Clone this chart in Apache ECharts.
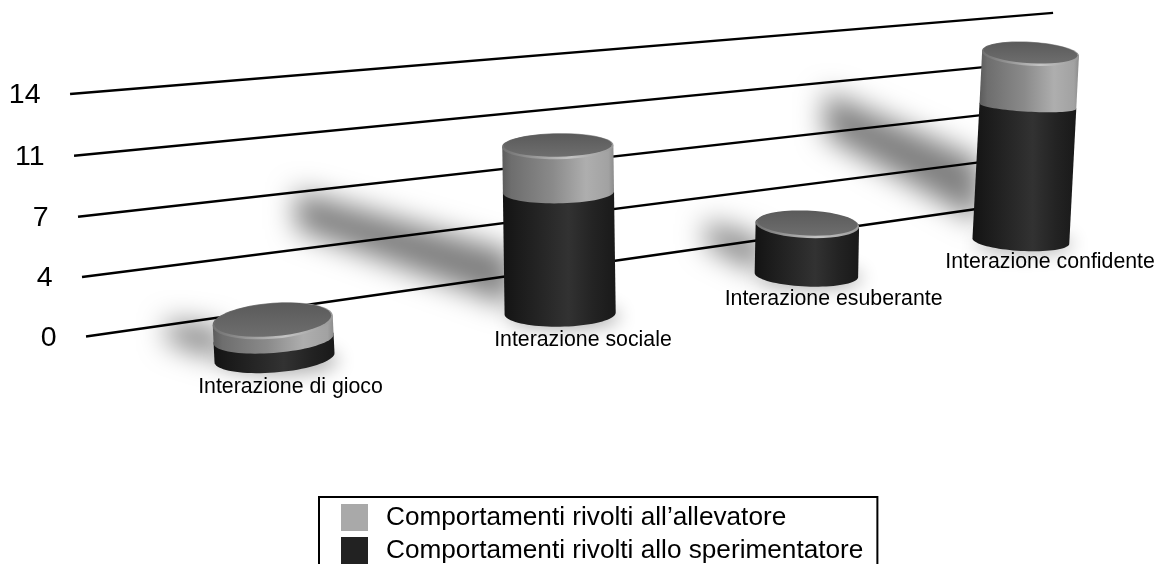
<!DOCTYPE html>
<html><head><meta charset="utf-8">
<style>html,body{margin:0;padding:0;background:#fff;overflow:hidden}#c{width:1159px;height:564px}</style>
<script src="https://cdn.jsdelivr.net/npm/echarts@6/dist/echarts.min.js"></script>
</head><body><div id="c"></div>
<script>
const categories = ['Interazione di gioco','Interazione sociale','Interazione esuberante','Interazione confidente'];
const sperimentatore = [1.15, 8.0, 3.67, 10.15];
const allevatore = [1.15, 3.0, 0, 3.85];
const tickValues = [0, 3.5, 7, 10.5, 14];
const tickLabels = ['0','4','7','11','14'];
const seriesNames = ['Comportamenti rivolti all\u2019allevatore','Comportamenti rivolti allo sperimentatore'];

const X_MIN=-0.6, X_MAX=3.2, LINE_START=-0.5825, LINE_END=3.11, FONT='"Liberation Sans", Arial, sans-serif';
const RY_TOP=[17.5,12.5,13.5,11.5], TILT=[-0.075,-0.015,0.04,0.055], OFF=3000;

function project(p,api,t,v){
  const c=api.coord([t,v]), s=p.coordSys;
  const tt=X_MIN+(c[0]-s.x)/s.width*(X_MAX-X_MIN);
  const f=(s.y+s.height-c[1])/s.height;
  const xb=274.5+308.5*tt/(1+0.08*tt);
  const y=c[1]+6*f*(1-f)+(xb-86)*(-0.1432+f*0.0585);
  return [xb+(xb-668)*0.00196*14*f,y];
}
function barPoint(p,api,t,v){
  const q=project(p,api,t,v);
  return [q[0],q[1]+48-3.2*t];
}
function arc(c,rx,ry,tilt,a0,a1){
  const pts=[],n=40;
  for(let i=0;i<=n;i++){
    const a=a0+(a1-a0)*i/n;
    pts.push([c[0]+rx*Math.cos(a),c[1]+ry*Math.sin(a)+tilt*rx*Math.cos(a)]);
  }
  return pts;
}
function hGrad(stops){
  return {type:'linear',x:0,y:0,x2:1,y2:0,colorStops:stops.map(s=>({offset:s[0],color:s[1]}))};
}
const darkGrad=()=>hGrad([[0,'#131313'],[0.12,'#1a1a1a'],[0.58,'#323232'],[0.8,'#232323'],[1,'#191919']]);
const lightGrad=()=>hGrad([[0,'#5c5c5c'],[0.08,'#6e6e6e'],[0.45,'#8a8a8a'],[0.75,'#aeaeae'],[0.95,'#a2a2a2'],[1,'#8c8c8c']]);
const dims=t=>({rx:60/(1+0.08*t),tilt:TILT[t],ryB:15-1.7*t,ryS:14-2.8*t,ryT:RY_TOP[t]});

function renderGrid(p,api){
  const v=api.value(0), i=api.value(1);
  const a=project(p,api,LINE_START,v), b=project(p,api,LINE_END,v);
  return {type:'group',children:[
    {type:'line',shape:{x1:a[0],y1:a[1],x2:b[0],y2:b[1]},style:{stroke:'#000',lineWidth:2.3}},
    {type:'text',style:{x:a[0]-29.5,y:a[1]+1.5,text:tickLabels[i],fill:'#000',font:'28.5px '+FONT,textAlign:'right',textVerticalAlign:'middle'}}
  ]};
}
function renderShadow(p,api){
  const t=api.value(0), v=api.value(1), d=dims(t);
  const base=barPoint(p,api,t,0);
  const sx=base[0]-d.rx+8, sy=base[1]-9-v*(2+0.3*t);
  const L=v*(24-4.3*t), slope=0.23+0.09*t, h=12+v*1.4;
  const tx=sx-L, ty=sy-L*slope;
  const pts=[[sx,sy-h],[sx,sy+h],[tx,ty+h*0.7],[tx,ty-h*0.7]].map(q=>[q[0]-OFF,q[1]]);
  return {type:'group',children:[
    {type:'polygon',shape:{points:pts},style:{fill:'#000',shadowBlur:28,shadowColor:'rgba(0,0,0,0.5)',shadowOffsetX:OFF}},
    {type:'ellipse',shape:{cx:base[0]+4-OFF,cy:base[1]+3,rx:d.rx,ry:d.ryB},style:{fill:'#000',shadowBlur:18,shadowColor:'rgba(0,0,0,0.3)',shadowOffsetX:OFF}}
  ]};
}
function renderDark(p,api){
  const t=api.value(0), v=api.value(1), d=dims(t);
  const b=barPoint(p,api,t,0), s=barPoint(p,api,t,v);
  const pts=arc(b,d.rx,d.ryB,d.tilt,Math.PI,0).concat(arc(s,d.rx,d.ryS,d.tilt,0,-Math.PI));
  return {type:'group',children:[
    {type:'polygon',shape:{points:pts},style:{fill:darkGrad()}},
    {type:'text',style:{x:b[0]+16+8*t-1.2*t*t,y:b[1]+30-3*t,text:categories[t],fill:'#000',font:'21.3px '+FONT,textAlign:'center',textVerticalAlign:'middle'}}
  ]};
}
function renderLight(p,api){
  const t=api.value(0), v0=api.value(1), v=api.value(2), d=dims(t);
  const s=barPoint(p,api,t,v0), top=barPoint(p,api,t,v0+v);
  const kids=[];
  if(v>0){
    const pts=arc(s,d.rx,d.ryS,d.tilt,Math.PI,0).concat(arc(top,d.rx,d.ryT,d.tilt,0,-Math.PI));
    kids.push({type:'polygon',shape:{points:pts},style:{fill:lightGrad()}});
  }
  const rim=arc([top[0],top[1]+1],d.rx,d.ryT,d.tilt,0,Math.PI*2);
  const cap=arc([top[0],top[1]-0.5],d.rx-1.5,d.ryT-1,d.tilt,0,Math.PI*2);
  kids.push({type:'polygon',shape:{points:rim},style:{fill:hGrad([[0,'#707070'],[0.6,'#c4c4c4'],[1,'#9a9a9a']])}});
  kids.push({type:'polygon',shape:{points:cap},style:{fill:{type:'linear',x:0,y:0,x2:0,y2:1,colorStops:[{offset:0,color:'#5a5a5a'},{offset:1,color:'#6e6e6e'}]}}});
  return {type:'group',children:kids};
}

const chart=echarts.init(document.getElementById('c'),null,{renderer:'canvas'});
chart.setOption({
  animation:false,
  backgroundColor:'#fff',
  grid:{left:86,width:940,top:94,height:242.5,show:false},
  xAxis:{type:'value',min:X_MIN,max:X_MAX,show:false},
  yAxis:{type:'value',min:0,max:14,interval:3.5,show:false},
  legend:{
    data:[seriesNames[0],seriesNames[1]],orient:'vertical',left:319,top:497,height:120,
    padding:[7,14,6,22],itemWidth:27,itemHeight:27,itemGap:6,icon:'rect',
    borderColor:'#000',borderWidth:2,selectedMode:false,
    textStyle:{color:'#000',fontFamily:FONT,fontSize:26.2,padding:[0,0,0,13]}
  },
  series:[
    {type:'custom',name:'shadow',z:1,silent:true,clip:false,renderItem:renderShadow,
     encode:{x:0,y:1},data:categories.map((c,i)=>[i,sperimentatore[i]+allevatore[i]])},
    {type:'custom',name:'grid',z:2,silent:true,clip:false,renderItem:renderGrid,
     encode:{y:0},data:tickValues.map((v,i)=>[v,i])},
    {type:'custom',name:seriesNames[1],z:3,silent:true,clip:false,renderItem:renderDark,itemStyle:{color:'#222222'},
     encode:{x:0,y:1},data:categories.map((c,i)=>[i,sperimentatore[i]])},
    {type:'custom',name:seriesNames[0],z:4,silent:true,clip:false,renderItem:renderLight,itemStyle:{color:'#a9a9a9'},
     encode:{x:0,y:1},data:categories.map((c,i)=>[i,sperimentatore[i],allevatore[i]])}
  ]
});
</script></body></html>
